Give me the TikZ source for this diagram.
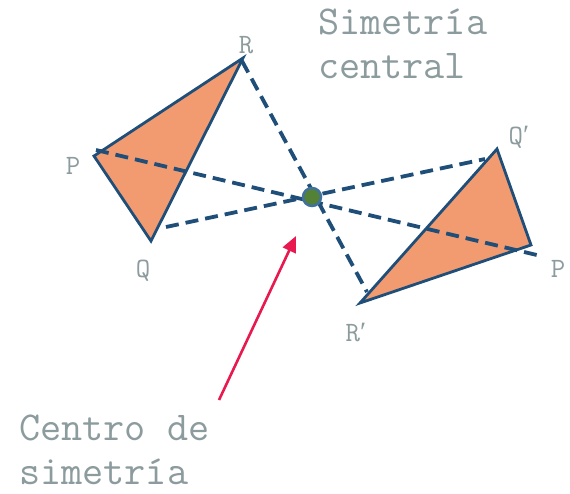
\documentclass[tikz,border=0pt]{standalone}
\usepackage{fontspec}
\usepackage{xcolor}
\usepackage{tikz}
\usetikzlibrary{arrows.meta,positioning,calc}
\newfontfamily\primefont{Liberation Serif}

\definecolor{lineblue}{HTML}{1F4E79}
\definecolor{trifill}{HTML}{F29B70}
\definecolor{labelgray}{HTML}{8C9B9D}
\definecolor{dotgreen}{HTML}{538135}
\definecolor{dotrim}{HTML}{41719C}
\definecolor{arrowred}{HTML}{E8194F}

\tikzset{
  tri/.style={fill=trifill, draw=lineblue, line width=2.8pt, line join=miter},
  symline/.style={draw=lineblue, line width=3.8pt, dash pattern=on 13pt off 7pt},
  ptlabel/.style={font=\ttfamily\fontsize{28}{28}\selectfont, text=labelgray, inner sep=0pt},
  bigtext/.style={font=\ttfamily\fontsize{41}{44}\selectfont, text=labelgray, align=left, inner sep=0pt},
  pointer/.style={draw=arrowred, line width=2.6pt, -{Triangle[length=16pt, width=14pt]}},
}

\begin{document}
\begin{tikzpicture}[x=1pt, y=-1pt]
\useasboundingbox (0,0) rectangle (570,493);
% vertices of the original triangle and of its image
\coordinate (P) at (94,156);
\coordinate (R) at (243,58);
\coordinate (Q) at (151,241);
\coordinate (Qi) at (497,149);
\coordinate (Pi) at (531,245);
\coordinate (Ri) at (360,303);
% ends of the dashed lines through the centre
\coordinate (p1) at (96,150);
\coordinate (p2) at (541,256);
\coordinate (q1) at (166,227);
\coordinate (q2) at (485,159);
\coordinate (r1) at (242,61);
\coordinate (r2) at (367,292);
% triangles
\draw[tri] (P) -- (R) -- (Q) -- cycle;
\draw[tri] (Qi) -- (Pi) -- (Ri) -- cycle;
% dashed lines
\draw[symline] (p1) -- (p2);
\draw[symline] (q1) -- (q2);
\draw[symline] (r1) -- (r2);
% centre of symmetry
\node[circle, fill=dotgreen, draw=dotrim, line width=2.5pt, minimum size=18pt, inner sep=0pt] (O) at (312,197) {};
% vertex labels
\node[ptlabel] (lP) at (73,166) {P};
\node[ptlabel] (lR) at (246,45) {R};
\node[ptlabel] (lQ) at (143,271) {Q};
\node[ptlabel] (lQi) at (519,137) {Q{\primefont ′}};
\node[ptlabel] (lPi) at (558,269) {P};
\node[ptlabel] (lRi) at (356,332) {R{\primefont ′}};
% titles (anchored at the baseline of the last line)
\node[bigtext, anchor=base west] (title) at (318,78) {Simetría\\central};
\node[bigtext, anchor=base west] (centro) at (19,484) {Centro de\\simetría};
\coordinate (tip) at (296,236);
\coordinate (tail) at (219,400);
\draw[pointer] (tail) -- (tip);
\end{tikzpicture}
\end{document}
